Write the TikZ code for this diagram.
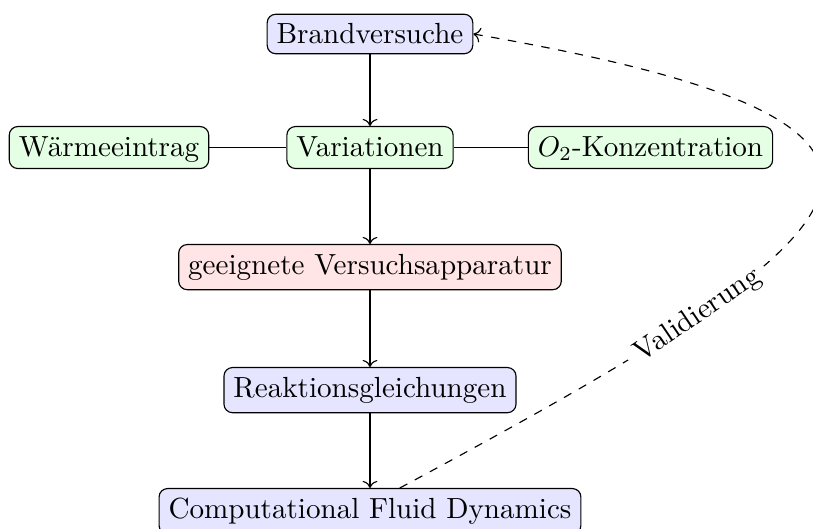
\documentclass[tikz,border=0pt]{standalone}
\usetikzlibrary{arrows.meta}
\begin{document}
\begin{tikzpicture}[x=0.3521pt,y=-0.3521pt,
  every node/.style={font=\fontsize{10.25pt}{12.3pt}\selectfont},
  box/.style={draw,rounded corners=3pt,anchor=north},
  bluebox/.style={box,fill=blue!10},
  greenbox/.style={box,fill=green!10,text height=7.1pt,text depth=1pt},
  redbox/.style={box,fill=red!10},
  conn/.style={->},
  feedback/.style={->,dashed}]
\useasboundingbox (0,0) rectangle (813,529);
\node[bluebox] (brand) at (370,13.7) {Brandversuche};
\node[greenbox] (var) at (370,126) {Variationen};
\node[greenbox] (w) at (109,126) {Wärmeeintrag};
\node[greenbox] (o2) at (650.5,126) {$O_2$-Konzentration};
\node[redbox] (app) at (370,244) {geeignete Versuchsapparatur};
\node[bluebox] (reak) at (370,367) {Reaktionsgleichungen};
\node[bluebox] (cfd) at (370,488) {Computational Fluid Dynamics};
\draw[conn] (brand) -- (var);
\draw[conn] (var) -- (app);
\draw[conn] (app) -- (reak);
\draw[conn] (reak) -- (cfd);
\draw (w) -- (var);
\draw (var) -- (o2);
\draw[feedback] ([xshift=10.5pt]cfd.north) .. controls (880,230) and (1010,127) .. node[sloped,pos=0.26,fill=white] {Validierung} (brand.east);
\end{tikzpicture}
\end{document}
